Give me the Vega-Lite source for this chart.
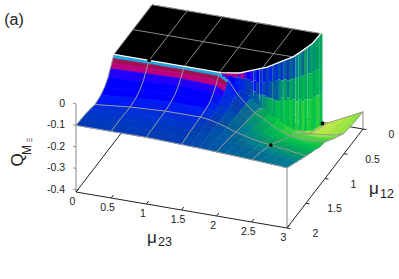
{"$schema":"https://vega.github.io/schema/vega-lite/v6.json","width":399,"height":279,"padding":0,"autosize":"none","background":"white","config":{"view":{"stroke":null},"text":{"font":"Liberation Sans","fill":"#222"}},
"datasets":{
"surface":[
{"m23":2.25,"m12":0,"q":-0.41,"c":5.5},{"m23":2.375,"m12":0,"q":-0.41,"c":6},{"m23":2.5,"m12":0,"q":-0.41,"c":6},{"m23":2.625,"m12":0,"q":-0.39,"c":5.8},{"m23":2.75,"m12":0,"q":-0.37,"c":5.6},{"m23":2.875,"m12":0,"q":-0.35,"c":5.3},{"m23":3,"m12":0,"q":-0.33,"c":5.1},
{"m23":2.125,"m12":0.25,"q":-0.36,"c":4},{"m23":2.25,"m12":0.25,"q":-0.39,"c":4.5},{"m23":2.375,"m12":0.25,"q":-0.39,"c":5.4},{"m23":2.5,"m12":0.25,"q":-0.38,"c":5.9},{"m23":2.625,"m12":0.25,"q":-0.365,"c":5.8},{"m23":2.75,"m12":0.25,"q":-0.35,"c":5.6},{"m23":2.875,"m12":0.25,"q":-0.34,"c":5.4},{"m23":3,"m12":0.25,"q":-0.325,"c":5.3},
{"m23":2,"m12":0.5,"q":-0.27,"c":3.5},{"m23":2.125,"m12":0.5,"q":-0.3,"c":4},{"m23":2.25,"m12":0.5,"q":-0.33,"c":4.3},{"m23":2.375,"m12":0.5,"q":-0.34,"c":4.8},{"m23":2.5,"m12":0.5,"q":-0.345,"c":5.2},{"m23":2.625,"m12":0.5,"q":-0.34,"c":5.3},{"m23":2.75,"m12":0.5,"q":-0.335,"c":5.3},{"m23":2.875,"m12":0.5,"q":-0.33,"c":5.2},{"m23":3,"m12":0.5,"q":-0.315,"c":5.1},
{"m23":1.875,"m12":0.75,"q":-0.14,"c":2.4},{"m23":2,"m12":0.75,"q":-0.2,"c":3.4},{"m23":2.125,"m12":0.75,"q":-0.23,"c":3.9},{"m23":2.25,"m12":0.75,"q":-0.26,"c":4.1},{"m23":2.375,"m12":0.75,"q":-0.28,"c":4.4},{"m23":2.5,"m12":0.75,"q":-0.29,"c":4.6},{"m23":2.625,"m12":0.75,"q":-0.29,"c":4.8},{"m23":2.75,"m12":0.75,"q":-0.29,"c":4.8},{"m23":2.875,"m12":0.75,"q":-0.285,"c":4.7},{"m23":3,"m12":0.75,"q":-0.28,"c":4.6},
{"m23":1.5,"m12":0.875,"q":-0.015,"c":0},{"m23":1.625,"m12":0.875,"q":-0.05,"c":0.1},{"m23":1.75,"m12":0.875,"q":-0.088,"c":0.7},{"m23":1.875,"m12":0.875,"q":-0.125,"c":2.2},{"m23":2,"m12":0.875,"q":-0.17,"c":3.2},{"m23":2.125,"m12":0.875,"q":-0.19,"c":3.7},{"m23":2.25,"m12":0.875,"q":-0.215,"c":4},{"m23":2.375,"m12":0.875,"q":-0.24,"c":4.2},{"m23":2.5,"m12":0.875,"q":-0.255,"c":4.4},{"m23":2.625,"m12":0.875,"q":-0.26,"c":4.5},{"m23":2.75,"m12":0.875,"q":-0.26,"c":4.5},{"m23":2.875,"m12":0.875,"q":-0.26,"c":4.4},{"m23":3,"m12":0.875,"q":-0.26,"c":4.3},
{"m23":0,"m12":1,"q":0,"c":-3},{"m23":0.5,"m12":1,"q":0,"c":-3},{"m23":1,"m12":1,"q":0,"c":-3},{"m23":1.5,"m12":1,"q":0,"c":-3},{"m23":1.625,"m12":1,"q":-0.03,"c":0.1},{"m23":1.75,"m12":1,"q":-0.085,"c":0.7},{"m23":1.875,"m12":1,"q":-0.125,"c":2},{"m23":2,"m12":1,"q":-0.16,"c":3},{"m23":2.125,"m12":1,"q":-0.18,"c":3.5},{"m23":2.25,"m12":1,"q":-0.205,"c":3.8},{"m23":2.375,"m12":1,"q":-0.225,"c":4},{"m23":2.5,"m12":1,"q":-0.24,"c":4.1},{"m23":2.625,"m12":1,"q":-0.245,"c":4.2},{"m23":2.75,"m12":1,"q":-0.245,"c":4.2},{"m23":2.875,"m12":1,"q":-0.243,"c":4.1},{"m23":3,"m12":1,"q":-0.24,"c":4},
{"m23":0,"m12":1.03,"q":-0.012,"c":-2.5},{"m23":0.5,"m12":1.03,"q":-0.01,"c":-2.5},{"m23":1,"m12":1.03,"q":-0.009,"c":-2.5},{"m23":1.5,"m12":1.03,"q":-0.011,"c":-2.5},{"m23":1.625,"m12":1.03,"q":-0.035,"c":0.2},{"m23":1.75,"m12":1.03,"q":-0.087,"c":0.8},{"m23":1.875,"m12":1.03,"q":-0.124,"c":2},{"m23":2,"m12":1.03,"q":-0.158,"c":2.9},{"m23":2.125,"m12":1.03,"q":-0.179,"c":3.4},{"m23":2.25,"m12":1.03,"q":-0.203,"c":3.7},{"m23":2.375,"m12":1.03,"q":-0.222,"c":3.9},{"m23":2.5,"m12":1.03,"q":-0.237,"c":4},{"m23":2.625,"m12":1.03,"q":-0.243,"c":4.05},{"m23":2.75,"m12":1.03,"q":-0.243,"c":4.1},{"m23":2.875,"m12":1.03,"q":-0.242,"c":4.05},{"m23":3,"m12":1.03,"q":-0.239,"c":3.95},
{"m23":0,"m12":1.06,"q":-0.026,"c":-1.8},{"m23":0.5,"m12":1.06,"q":-0.022,"c":-1.8},{"m23":1,"m12":1.06,"q":-0.02,"c":-1.8},{"m23":1.5,"m12":1.06,"q":-0.024,"c":-1.8},{"m23":1.625,"m12":1.06,"q":-0.045,"c":0.3},{"m23":1.75,"m12":1.06,"q":-0.088,"c":0.9},{"m23":1.875,"m12":1.06,"q":-0.123,"c":2},{"m23":2,"m12":1.06,"q":-0.157,"c":2.9},{"m23":2.125,"m12":1.06,"q":-0.177,"c":3.3},{"m23":2.25,"m12":1.06,"q":-0.2,"c":3.65},{"m23":2.375,"m12":1.06,"q":-0.219,"c":3.8},{"m23":2.5,"m12":1.06,"q":-0.234,"c":3.9},{"m23":2.625,"m12":1.06,"q":-0.24,"c":3.95},{"m23":2.75,"m12":1.06,"q":-0.241,"c":4},{"m23":2.875,"m12":1.06,"q":-0.24,"c":4},{"m23":3,"m12":1.06,"q":-0.237,"c":3.9},
{"m23":0,"m12":1.1,"q":-0.044,"c":-0.1},{"m23":0.5,"m12":1.1,"q":-0.038,"c":-0.1},{"m23":1,"m12":1.1,"q":-0.034,"c":-0.1},{"m23":1.5,"m12":1.1,"q":-0.04,"c":-0.1},{"m23":1.625,"m12":1.1,"q":-0.06,"c":0.4},{"m23":1.75,"m12":1.1,"q":-0.09,"c":1},{"m23":1.875,"m12":1.1,"q":-0.122,"c":2},{"m23":2,"m12":1.1,"q":-0.155,"c":2.8},{"m23":2.125,"m12":1.1,"q":-0.175,"c":3.2},{"m23":2.25,"m12":1.1,"q":-0.195,"c":3.55},{"m23":2.375,"m12":1.1,"q":-0.213,"c":3.7},{"m23":2.5,"m12":1.1,"q":-0.23,"c":3.8},{"m23":2.625,"m12":1.1,"q":-0.235,"c":3.85},{"m23":2.75,"m12":1.1,"q":-0.237,"c":3.9},{"m23":2.875,"m12":1.1,"q":-0.237,"c":3.9},{"m23":3,"m12":1.1,"q":-0.235,"c":3.85},
{"m23":0,"m12":1.16,"q":-0.072,"c":0},{"m23":0.5,"m12":1.16,"q":-0.062,"c":0},{"m23":1,"m12":1.16,"q":-0.055,"c":0},{"m23":1.5,"m12":1.16,"q":-0.06,"c":0.1},{"m23":1.625,"m12":1.16,"q":-0.075,"c":0.5},{"m23":1.75,"m12":1.16,"q":-0.095,"c":1.1},{"m23":1.875,"m12":1.16,"q":-0.122,"c":2},{"m23":2,"m12":1.16,"q":-0.152,"c":2.7},{"m23":2.125,"m12":1.16,"q":-0.17,"c":3.1},{"m23":2.25,"m12":1.16,"q":-0.19,"c":3.4},{"m23":2.375,"m12":1.16,"q":-0.205,"c":3.55},{"m23":2.5,"m12":1.16,"q":-0.22,"c":3.65},{"m23":2.625,"m12":1.16,"q":-0.225,"c":3.7},{"m23":2.75,"m12":1.16,"q":-0.228,"c":3.75},{"m23":2.875,"m12":1.16,"q":-0.23,"c":3.75},{"m23":3,"m12":1.16,"q":-0.23,"c":3.75},
{"m23":0,"m12":1.25,"q":-0.095,"c":0},{"m23":0.5,"m12":1.25,"q":-0.082,"c":0},{"m23":1,"m12":1.25,"q":-0.075,"c":0},{"m23":1.5,"m12":1.25,"q":-0.08,"c":0.3},{"m23":1.625,"m12":1.25,"q":-0.09,"c":0.7},{"m23":1.75,"m12":1.25,"q":-0.105,"c":1.3},{"m23":1.875,"m12":1.25,"q":-0.125,"c":2},{"m23":2,"m12":1.25,"q":-0.15,"c":2.5},{"m23":2.125,"m12":1.25,"q":-0.165,"c":2.85},{"m23":2.25,"m12":1.25,"q":-0.18,"c":3.1},{"m23":2.375,"m12":1.25,"q":-0.195,"c":3.3},{"m23":2.5,"m12":1.25,"q":-0.205,"c":3.4},{"m23":2.625,"m12":1.25,"q":-0.21,"c":3.45},{"m23":2.75,"m12":1.25,"q":-0.213,"c":3.5},{"m23":2.875,"m12":1.25,"q":-0.215,"c":3.55},{"m23":3,"m12":1.25,"q":-0.217,"c":3.55},
{"m23":0,"m12":1.35,"q":-0.11,"c":0.15},{"m23":0.5,"m12":1.35,"q":-0.095,"c":0.15},{"m23":1,"m12":1.35,"q":-0.085,"c":0.2},{"m23":1.5,"m12":1.35,"q":-0.087,"c":0.5},{"m23":1.625,"m12":1.35,"q":-0.094,"c":0.9},{"m23":1.75,"m12":1.35,"q":-0.106,"c":1.4},{"m23":1.875,"m12":1.35,"q":-0.122,"c":1.9},{"m23":2,"m12":1.35,"q":-0.143,"c":2.3},{"m23":2.125,"m12":1.35,"q":-0.156,"c":2.6},{"m23":2.25,"m12":1.35,"q":-0.168,"c":2.8},{"m23":2.375,"m12":1.35,"q":-0.18,"c":3},{"m23":2.5,"m12":1.35,"q":-0.188,"c":3.1},{"m23":2.625,"m12":1.35,"q":-0.194,"c":3.2},{"m23":2.75,"m12":1.35,"q":-0.198,"c":3.25},{"m23":2.875,"m12":1.35,"q":-0.203,"c":3.3},{"m23":3,"m12":1.35,"q":-0.207,"c":3.3},
{"m23":0,"m12":1.5,"q":-0.118,"c":0.5},{"m23":0.5,"m12":1.5,"q":-0.102,"c":0.5},{"m23":1,"m12":1.5,"q":-0.093,"c":0.5},{"m23":1.5,"m12":1.5,"q":-0.093,"c":0.8},{"m23":1.625,"m12":1.5,"q":-0.098,"c":1},{"m23":1.75,"m12":1.5,"q":-0.108,"c":1.3},{"m23":1.875,"m12":1.5,"q":-0.12,"c":1.65},{"m23":2,"m12":1.5,"q":-0.135,"c":2},{"m23":2.125,"m12":1.5,"q":-0.145,"c":2.25},{"m23":2.25,"m12":1.5,"q":-0.155,"c":2.45},{"m23":2.375,"m12":1.5,"q":-0.162,"c":2.6},{"m23":2.5,"m12":1.5,"q":-0.167,"c":2.7},{"m23":2.625,"m12":1.5,"q":-0.173,"c":2.8},{"m23":2.75,"m12":1.5,"q":-0.178,"c":2.9},{"m23":2.875,"m12":1.5,"q":-0.184,"c":2.95},{"m23":3,"m12":1.5,"q":-0.19,"c":3},
{"m23":0,"m12":1.625,"q":-0.11,"c":0.65},{"m23":0.5,"m12":1.625,"q":-0.1,"c":0.65},{"m23":1,"m12":1.625,"q":-0.094,"c":0.7},{"m23":1.5,"m12":1.625,"q":-0.095,"c":0.95},{"m23":1.625,"m12":1.625,"q":-0.099,"c":1.1},{"m23":1.75,"m12":1.625,"q":-0.106,"c":1.35},{"m23":1.875,"m12":1.625,"q":-0.116,"c":1.6},{"m23":2,"m12":1.625,"q":-0.127,"c":1.85},{"m23":2.125,"m12":1.625,"q":-0.136,"c":2},{"m23":2.25,"m12":1.625,"q":-0.144,"c":2.15},{"m23":2.375,"m12":1.625,"q":-0.15,"c":2.3},{"m23":2.5,"m12":1.625,"q":-0.153,"c":2.4},{"m23":2.625,"m12":1.625,"q":-0.159,"c":2.5},{"m23":2.75,"m12":1.625,"q":-0.164,"c":2.55},{"m23":2.875,"m12":1.625,"q":-0.17,"c":2.6},{"m23":3,"m12":1.625,"q":-0.175,"c":2.65},
{"m23":0,"m12":1.75,"q":-0.105,"c":0.8},{"m23":0.5,"m12":1.75,"q":-0.098,"c":0.8},{"m23":1,"m12":1.75,"q":-0.095,"c":0.9},{"m23":1.5,"m12":1.75,"q":-0.097,"c":1.1},{"m23":1.625,"m12":1.75,"q":-0.1,"c":1.2},{"m23":1.75,"m12":1.75,"q":-0.105,"c":1.4},{"m23":1.875,"m12":1.75,"q":-0.112,"c":1.55},{"m23":2,"m12":1.75,"q":-0.12,"c":1.7},{"m23":2.125,"m12":1.75,"q":-0.127,"c":1.8},{"m23":2.25,"m12":1.75,"q":-0.133,"c":1.9},{"m23":2.375,"m12":1.75,"q":-0.137,"c":2},{"m23":2.5,"m12":1.75,"q":-0.14,"c":2.1},{"m23":2.625,"m12":1.75,"q":-0.145,"c":2.2},{"m23":2.75,"m12":1.75,"q":-0.15,"c":2.25},{"m23":2.875,"m12":1.75,"q":-0.155,"c":2.3},{"m23":3,"m12":1.75,"q":-0.16,"c":2.35},
{"m23":0,"m12":1.875,"q":-0.102,"c":0.9},{"m23":0.5,"m12":1.875,"q":-0.099,"c":0.9},{"m23":1,"m12":1.875,"q":-0.097,"c":0.95},{"m23":1.5,"m12":1.875,"q":-0.101,"c":1.15},{"m23":1.625,"m12":1.875,"q":-0.103,"c":1.25},{"m23":1.75,"m12":1.875,"q":-0.106,"c":1.4},{"m23":1.875,"m12":1.875,"q":-0.111,"c":1.5},{"m23":2,"m12":1.875,"q":-0.116,"c":1.65},{"m23":2.125,"m12":1.875,"q":-0.12,"c":1.75},{"m23":2.25,"m12":1.875,"q":-0.124,"c":1.85},{"m23":2.375,"m12":1.875,"q":-0.127,"c":1.95},{"m23":2.5,"m12":1.875,"q":-0.13,"c":2.05},{"m23":2.625,"m12":1.875,"q":-0.133,"c":2.15},{"m23":2.75,"m12":1.875,"q":-0.137,"c":2.2},{"m23":2.875,"m12":1.875,"q":-0.141,"c":2.3},{"m23":3,"m12":1.875,"q":-0.145,"c":2.3},
{"m23":0,"m12":2,"q":-0.1,"c":1},{"m23":0.5,"m12":2,"q":-0.1,"c":1},{"m23":1,"m12":2,"q":-0.1,"c":1},{"m23":1.5,"m12":2,"q":-0.105,"c":1.2},{"m23":1.625,"m12":2,"q":-0.107,"c":1.3},{"m23":1.75,"m12":2,"q":-0.108,"c":1.4},{"m23":1.875,"m12":2,"q":-0.11,"c":1.5},{"m23":2,"m12":2,"q":-0.112,"c":1.6},{"m23":2.125,"m12":2,"q":-0.114,"c":1.7},{"m23":2.25,"m12":2,"q":-0.116,"c":1.8},{"m23":2.375,"m12":2,"q":-0.118,"c":1.9},{"m23":2.5,"m12":2,"q":-0.12,"c":2},{"m23":2.625,"m12":2,"q":-0.122,"c":2.1},{"m23":2.75,"m12":2,"q":-0.125,"c":2.2},{"m23":2.875,"m12":2,"q":-0.127,"c":2.25},{"m23":3,"m12":2,"q":-0.13,"c":2.3}
],
"wall":[
{"m23":1.56,"m12":0.99,"q":0,"q2":-0.008,"c":-2.2},{"m23":1.56,"m12":0.99,"q":-0.008,"q2":-0.019,"c":-0.5},
{"m23":1.6,"m12":0.985,"q":0,"q2":-0.012,"c":-2.3},{"m23":1.6,"m12":0.985,"q":-0.012,"q2":-0.028,"c":-0.8},
{"m23":1.64,"m12":0.975,"q":0,"q2":-0.015,"c":-2},{"m23":1.64,"m12":0.975,"q":-0.015,"q2":-0.037,"c":0},
{"m23":1.68,"m12":0.965,"q":0,"q2":-0.02,"c":-1.5},{"m23":1.68,"m12":0.965,"q":-0.02,"q2":-0.047,"c":0},
{"m23":1.72,"m12":0.96,"q":0,"q2":-0.02,"c":-2.2},{"m23":1.72,"m12":0.96,"q":-0.02,"q2":-0.056,"c":0.2},
{"m23":1.76,"m12":0.95,"q":0,"q2":-0.02,"c":-1},{"m23":1.76,"m12":0.95,"q":-0.02,"q2":-0.07,"c":0.3},
{"m23":1.79,"m12":0.93,"q":0,"q2":-0.03,"c":-1.8},{"m23":1.79,"m12":0.93,"q":-0.03,"q2":-0.081,"c":0.4},
{"m23":1.82,"m12":0.91,"q":0,"q2":-0.03,"c":-0.5},{"m23":1.82,"m12":0.91,"q":-0.03,"q2":-0.098,"c":0.6},
{"m23":1.855,"m12":0.89,"q":0,"q2":-0.04,"c":0},{"m23":1.855,"m12":0.89,"q":-0.04,"q2":-0.114,"c":1},
{"m23":1.885,"m12":0.87,"q":0,"q2":-0.05,"c":-0.2},{"m23":1.885,"m12":0.87,"q":-0.05,"q2":-0.09,"c":0.8},{"m23":1.885,"m12":0.87,"q":-0.09,"q2":-0.13,"c":1.3},
{"m23":1.92,"m12":0.845,"q":0,"q2":-0.05,"c":0.6},{"m23":1.92,"m12":0.845,"q":-0.05,"q2":-0.1,"c":0.2},{"m23":1.92,"m12":0.845,"q":-0.1,"q2":-0.149,"c":1.6},
{"m23":1.95,"m12":0.825,"q":0,"q2":-0.06,"c":0},{"m23":1.95,"m12":0.825,"q":-0.06,"q2":-0.12,"c":1},{"m23":1.95,"m12":0.825,"q":-0.12,"q2":-0.165,"c":1.8},
{"m23":1.985,"m12":0.8,"q":0,"q2":-0.06,"c":0.9},{"m23":1.985,"m12":0.8,"q":-0.06,"q2":-0.12,"c":0.3},{"m23":1.985,"m12":0.8,"q":-0.12,"q2":-0.184,"c":2.3},
{"m23":2.02,"m12":0.78,"q":0,"q2":-0.07,"c":0.2},{"m23":2.02,"m12":0.78,"q":-0.07,"q2":-0.13,"c":1.2},{"m23":2.02,"m12":0.78,"q":-0.13,"q2":-0.195,"c":2.8},
{"m23":2.05,"m12":0.76,"q":0,"q2":-0.06,"c":1},{"m23":2.05,"m12":0.76,"q":-0.06,"q2":-0.14,"c":0.8},{"m23":2.05,"m12":0.76,"q":-0.14,"q2":-0.209,"c":3},
{"m23":2.08,"m12":0.73,"q":0,"q2":-0.07,"c":0.3},{"m23":2.08,"m12":0.73,"q":-0.07,"q2":-0.15,"c":1.4},{"m23":2.08,"m12":0.73,"q":-0.15,"q2":-0.223,"c":3.4},
{"m23":2.11,"m12":0.7,"q":0,"q2":-0.08,"c":1.2},{"m23":2.11,"m12":0.7,"q":-0.08,"q2":-0.16,"c":2},{"m23":2.11,"m12":0.7,"q":-0.16,"q2":-0.237,"c":3.2},
{"m23":2.13,"m12":0.67,"q":0,"q2":-0.08,"c":0.5},{"m23":2.13,"m12":0.67,"q":-0.08,"q2":-0.17,"c":1.6},{"m23":2.13,"m12":0.67,"q":-0.17,"q2":-0.253,"c":3.6},
{"m23":2.16,"m12":0.64,"q":0,"q2":-0.08,"c":1.4},{"m23":2.16,"m12":0.64,"q":-0.08,"q2":-0.18,"c":2.4},{"m23":2.16,"m12":0.64,"q":-0.18,"q2":-0.267,"c":3.8},
{"m23":2.18,"m12":0.61,"q":0,"q2":-0.09,"c":0.8},{"m23":2.18,"m12":0.61,"q":-0.09,"q2":-0.17,"c":2.8},{"m23":2.18,"m12":0.61,"q":-0.17,"q2":-0.281,"c":3.5},
{"m23":2.21,"m12":0.58,"q":0,"q2":-0.09,"c":1.6},{"m23":2.21,"m12":0.58,"q":-0.09,"q2":-0.19,"c":3.1},{"m23":2.21,"m12":0.58,"q":-0.19,"q2":-0.298,"c":3.9},
{"m23":2.235,"m12":0.55,"q":0,"q2":-0.1,"c":1},{"m23":2.235,"m12":0.55,"q":-0.1,"q2":-0.18,"c":2.2},{"m23":2.235,"m12":0.55,"q":-0.18,"q2":-0.314,"c":3.7},
{"m23":2.26,"m12":0.52,"q":0,"q2":-0.1,"c":1.9},{"m23":2.26,"m12":0.52,"q":-0.1,"q2":-0.2,"c":3.3},{"m23":2.26,"m12":0.52,"q":-0.2,"q2":-0.326,"c":4},
{"m23":2.28,"m12":0.49,"q":0,"q2":-0.1,"c":1.3},{"m23":2.28,"m12":0.49,"q":-0.1,"q2":-0.2,"c":2.8},{"m23":2.28,"m12":0.49,"q":-0.2,"q2":-0.34,"c":3.7},
{"m23":2.3,"m12":0.44,"q":0,"q2":-0.11,"c":2.4},{"m23":2.3,"m12":0.44,"q":-0.11,"q2":-0.22,"c":3.4},{"m23":2.3,"m12":0.44,"q":-0.22,"q2":-0.353,"c":4.1},
{"m23":2.32,"m12":0.39,"q":0,"q2":-0.12,"c":2.8},{"m23":2.32,"m12":0.39,"q":-0.12,"q2":-0.22,"c":3.1},{"m23":2.32,"m12":0.39,"q":-0.22,"q2":-0.363,"c":3.8},
{"m23":2.335,"m12":0.345,"q":0,"q2":-0.12,"c":2},{"m23":2.335,"m12":0.345,"q":-0.12,"q2":-0.24,"c":3.6},{"m23":2.335,"m12":0.345,"q":-0.24,"q2":-0.377,"c":4.2},
{"m23":2.35,"m12":0.3,"q":0,"q2":-0.13,"c":3},{"m23":2.35,"m12":0.3,"q":-0.13,"q2":-0.24,"c":3.3},{"m23":2.35,"m12":0.3,"q":-0.24,"q2":-0.386,"c":3.9},
{"m23":2.37,"m12":0.25,"q":0,"q2":-0.13,"c":2.4},{"m23":2.37,"m12":0.25,"q":-0.13,"q2":-0.25,"c":3.5},{"m23":2.37,"m12":0.25,"q":-0.25,"q2":-0.395,"c":4.1},
{"m23":2.385,"m12":0.205,"q":0,"q2":-0.14,"c":3.2},{"m23":2.385,"m12":0.205,"q":-0.14,"q2":-0.26,"c":3.7},{"m23":2.385,"m12":0.205,"q":-0.26,"q2":-0.405,"c":4},
{"m23":2.39,"m12":0.15,"q":0,"q2":-0.14,"c":2.8},{"m23":2.39,"m12":0.15,"q":-0.14,"q2":-0.26,"c":3.3},{"m23":2.39,"m12":0.15,"q":-0.26,"q2":-0.409,"c":3.9},
{"m23":2.395,"m12":0.08,"q":0,"q2":-0.15,"c":3.1},{"m23":2.395,"m12":0.08,"q":-0.15,"q2":-0.27,"c":3.6},{"m23":2.395,"m12":0.08,"q":-0.27,"q2":-0.419,"c":4.2},
{"m23":2.4,"m12":0,"q":0,"q2":-0.15,"c":3.2},{"m23":2.4,"m12":0,"q":-0.15,"q2":-0.28,"c":3.4},{"m23":2.4,"m12":0,"q":-0.28,"q2":-0.43,"c":3.8}
],
"plateau":[
{"n":0,"m23":0,"m12":0,"q":0},{"n":1,"m23":2.4,"m12":0,"q":0},{"n":2,"m23":2.39,"m12":0.19,"q":0},{"n":3,"m23":2.37,"m12":0.25,"q":0},{"n":4,"m23":2.33,"m12":0.37,"q":0},{"n":5,"m23":2.276,"m12":0.5,"q":0},{"n":6,"m23":2.18,"m12":0.61,"q":0},{"n":7,"m23":2.05,"m12":0.76,"q":0},{"n":8,"m23":1.9,"m12":0.86,"q":0},{"n":9,"m23":1.76,"m12":0.95,"q":0},{"n":10,"m23":1.52,"m12":1,"q":0},{"n":11,"m23":0,"m12":1,"q":0}
],
"segments":[
{"kind":"axis","m23":0,"m12":2,"q":-0.41,"m23b":3,"m12b":2,"qb":-0.41},{"kind":"axis","m23":3,"m12":2,"q":-0.41,"m23b":3,"m12b":0,"qb":-0.41},{"kind":"axis","m23":0,"m12":2,"q":-0.41,"m23b":0,"m12b":0,"qb":-0.41},{"kind":"axis","m23":0,"m12":0,"q":-0.41,"m23b":3,"m12b":0,"qb":-0.41},
{"kind":"edge","m23":0,"m12":2,"q":0,"m23b":0,"m12b":2,"qb":-0.41},{"kind":"edge","m23":3,"m12":2,"q":-0.13,"m23b":3,"m12b":2,"qb":-0.41},{"kind":"edge","m23":3,"m12":0,"q":-0.33,"m23b":3,"m12b":0,"qb":-0.41},
{"kind":"edge","m23":0,"m12":2,"q":0,"m23b":-0.04,"m12b":2,"qb":0},{"kind":"edge","m23":0,"m12":2,"q":-0.1,"m23b":-0.04,"m12b":2,"qb":-0.1},{"kind":"edge","m23":0,"m12":2,"q":-0.2,"m23b":-0.04,"m12b":2,"qb":-0.2},{"kind":"edge","m23":0,"m12":2,"q":-0.3,"m23b":-0.04,"m12b":2,"qb":-0.3},{"kind":"edge","m23":0,"m12":2,"q":-0.4,"m23b":-0.04,"m12b":2,"qb":-0.4},
{"kind":"axis","m23":0,"m12":2,"q":-0.41,"m23b":0,"m12b":1.94,"qb":-0.41},{"kind":"axis","m23":0.5,"m12":2,"q":-0.41,"m23b":0.5,"m12b":1.94,"qb":-0.41},{"kind":"axis","m23":1,"m12":2,"q":-0.41,"m23b":1,"m12b":1.94,"qb":-0.41},{"kind":"axis","m23":1.5,"m12":2,"q":-0.41,"m23b":1.5,"m12b":1.94,"qb":-0.41},{"kind":"axis","m23":2,"m12":2,"q":-0.41,"m23b":2,"m12b":1.94,"qb":-0.41},{"kind":"axis","m23":2.5,"m12":2,"q":-0.41,"m23b":2.5,"m12b":1.94,"qb":-0.41},{"kind":"axis","m23":3,"m12":2,"q":-0.41,"m23b":3,"m12b":1.94,"qb":-0.41},
{"kind":"axis","m23":3,"m12":0,"q":-0.41,"m23b":3.05,"m12b":0,"qb":-0.41},{"kind":"axis","m23":3,"m12":0.5,"q":-0.41,"m23b":3.05,"m12b":0.5,"qb":-0.41},{"kind":"axis","m23":3,"m12":1,"q":-0.41,"m23b":3.05,"m12b":1,"qb":-0.41},{"kind":"axis","m23":3,"m12":1.5,"q":-0.41,"m23b":3.05,"m12b":1.5,"qb":-0.41},{"kind":"axis","m23":3,"m12":2,"q":-0.41,"m23b":3.05,"m12b":2,"qb":-0.41},
{"kind":"grid","m23":0,"m12":0,"q":0,"m23b":2.4,"m12b":0,"qb":0},{"kind":"grid","m23":0,"m12":0,"q":0,"m23b":0,"m12b":1,"qb":0},{"kind":"grid","m23":0,"m12":0.5,"q":0,"m23b":2.276,"m12b":0.5,"qb":0},{"kind":"grid","m23":0.5,"m12":0,"q":0,"m23b":0.5,"m12b":1,"qb":0},{"kind":"grid","m23":1,"m12":0,"q":0,"m23b":1,"m12b":1,"qb":0},{"kind":"grid","m23":1.5,"m12":0,"q":0,"m23b":1.5,"m12b":1,"qb":0},{"kind":"grid","m23":2,"m12":0,"q":0,"m23b":2,"m12b":0.79,"qb":0}
],
"ticks":[
{"label":"0","axis":"z","m23":0,"m12":2,"q":0},{"label":"-0.1","axis":"z","m23":0,"m12":2,"q":-0.1},{"label":"-0.2","axis":"z","m23":0,"m12":2,"q":-0.2},{"label":"-0.3","axis":"z","m23":0,"m12":2,"q":-0.3},{"label":"-0.4","axis":"z","m23":0,"m12":2,"q":-0.4},
{"label":"0","axis":"x","m23":0,"m12":2,"q":-0.41},{"label":"0.5","axis":"x","m23":0.5,"m12":2,"q":-0.41},{"label":"1","axis":"x","m23":1,"m12":2,"q":-0.41},{"label":"1.5","axis":"x","m23":1.5,"m12":2,"q":-0.41},{"label":"2","axis":"x","m23":2,"m12":2,"q":-0.41},{"label":"2.5","axis":"x","m23":2.5,"m12":2,"q":-0.41},{"label":"3","axis":"x","m23":3,"m12":2,"q":-0.41},
{"label":"0","axis":"y","m23":3,"m12":0,"q":-0.41},{"label":"0.5","axis":"y","m23":3,"m12":0.5,"q":-0.41},{"label":"1","axis":"y","m23":3,"m12":1,"q":-0.41},{"label":"1.5","axis":"y","m23":3,"m12":1.5,"q":-0.41},{"label":"2","axis":"y","m23":3,"m12":2,"q":-0.41}
],
"dots":[{"m23":0.5,"m12":1,"q":0},{"m23":2.5,"m12":1.5,"q":-0.167},{"m23":2.5,"m12":0.14,"q":-0.38}]
},
"encoding":{"x":{"field":"sx","type":"quantitative","scale":{"domain":[0,399],"nice":false,"zero":false},"axis":null},"y":{"field":"sy","type":"quantitative","scale":{"domain":[279,0],"nice":false,"zero":false},"axis":null}},
"layer":[
{"data":{"name":"segments"},"transform":[{"filter":"datum.kind!='grid'"},{"calculate":"76+70.33*datum.m23+38*(2-datum.m12)","as":"sx"},{"calculate":"192+12*datum.m23-49.5*(2-datum.m12)-(datum.q+0.41)*215","as":"sy"},{"calculate":"76+70.33*datum.m23b+38*(2-datum.m12b)","as":"sxb"},{"calculate":"192+12*datum.m23b-49.5*(2-datum.m12b)-(datum.qb+0.41)*215","as":"syb"}],"mark":{"type":"rule","strokeWidth":1},"encoding":{"x2":{"field":"sxb"},"y2":{"field":"syb"},"color":{"field":"kind","type":"nominal","legend":null,"scale":{"domain":["axis","edge"],"range":["#222222","#8a8a8a"]}}}},
{"data":{"name":"surface"},"transform":[{"window":[{"op":"lead","field":"m12","as":"m12n"},{"op":"lead","field":"q","as":"qS"}],"sort":[{"field":"m12","order":"ascending"}],"groupby":["m23"]},{"window":[{"op":"lead","field":"m23","as":"m23n"},{"op":"lead","field":"q","as":"qE"},{"op":"lead","field":"qS","as":"qD"}],"sort":[{"field":"m23","order":"ascending"}],"groupby":["m12"]},{"filter":"isValid(datum.m12n)&&isValid(datum.m23n)&&isValid(datum.qD)"},{"calculate":"datum.m23+'_'+datum.m12","as":"cell"},{"calculate":"[datum.m23,datum.m23n,datum.m23n,datum.m23]","as":"xs"},{"calculate":"[datum.m12,datum.m12,datum.m12n,datum.m12n]","as":"ys"},{"calculate":"[datum.q,datum.qE,datum.qD,datum.qS]","as":"zs"},{"calculate":"[0,1,2,3]","as":"ks"},{"flatten":["xs","ys","zs","ks"],"as":["xv","yv","zv","kv"]},{"calculate":"76+70.33*datum.xv+38*(2-datum.yv)","as":"sx"},{"calculate":"192+12*datum.xv-49.5*(2-datum.yv)-(datum.zv+0.41)*215","as":"sy"}],"mark":{"type":"line","strokeWidth":0.7,"interpolate":"linear"},"encoding":{"detail":{"field":"cell","type":"nominal"},"order":{"field":"kv","type":"quantitative"},"fill":{"field":"c","type":"quantitative","legend":null,"scale":{"domain":[-3,-2.5,-2,-1,0,1,2,3,4,5,6],"range":["#18a8e0","#a01050","#c00070","#6000d0","#0000ff","#0a3cb0","#0a6890","#0a9a60","#10c840","#70e040","#c4e848"]}},"stroke":{"field":"c","type":"quantitative","legend":null,"scale":{"domain":[-3,-2.5,-2,-1,0,1,2,3,4,5,6],"range":["#18a8e0","#a01050","#c00070","#6000d0","#0000ff","#0a3cb0","#0a6890","#0a9a60","#10c840","#70e040","#c4e848"]}}}},
{"data":{"name":"surface"},"transform":[{"filter":"indexof([0,0.5,1,1.5,2,2.5,3],datum.m23)>=0"},{"calculate":"76+70.33*datum.m23+38*(2-datum.m12)","as":"sx"},{"calculate":"192+12*datum.m23-49.5*(2-datum.m12)-(datum.q+0.41)*215","as":"sy"}],"mark":{"type":"line","stroke":"#9a9a9a","strokeWidth":1},"encoding":{"detail":{"field":"m23","type":"nominal"},"order":{"field":"m12","type":"quantitative"}}},
{"data":{"name":"surface"},"transform":[{"filter":"indexof([0,0.5,1,1.5,2],datum.m12)>=0"},{"calculate":"76+70.33*datum.m23+38*(2-datum.m12)","as":"sx"},{"calculate":"192+12*datum.m23-49.5*(2-datum.m12)-(datum.q+0.41)*215","as":"sy"}],"mark":{"type":"line","stroke":"#9a9a9a","strokeWidth":1},"encoding":{"detail":{"field":"m12","type":"nominal"},"order":{"field":"m23","type":"quantitative"}}},
{"data":{"name":"wall"},"transform":[{"calculate":"76+70.33*datum.m23+38*(2-datum.m12)","as":"sx"},{"calculate":"192+12*datum.m23-49.5*(2-datum.m12)-(datum.q+0.41)*215","as":"sy"},{"calculate":"192+12*datum.m23-49.5*(2-datum.m12)-(datum.q2+0.41)*215","as":"sy2"}],"mark":{"type":"rule","strokeWidth":3.3},"encoding":{"y2":{"field":"sy2"},"stroke":{"field":"c","type":"quantitative","legend":null,"scale":{"domain":[-3,-2.5,-2,-1,0,1,2,3,4,5,6],"range":["#18a8e0","#a01050","#c00070","#6000d0","#0000ff","#0a3cb0","#0a6890","#0a9a60","#10c840","#70e040","#c4e848"]}}}},
{"data":{"name":"plateau"},"transform":[{"calculate":"76+70.33*datum.m23+38*(2-datum.m12)","as":"sx"},{"calculate":"192+12*datum.m23-49.5*(2-datum.m12)-(datum.q+0.41)*215","as":"sy"}],"mark":{"type":"line","fill":"#000000","stroke":"#000000","strokeWidth":0.5},"encoding":{"order":{"field":"n","type":"quantitative"}}},
{"data":{"name":"segments"},"transform":[{"filter":"datum.kind=='grid'"},{"calculate":"76+70.33*datum.m23+38*(2-datum.m12)","as":"sx"},{"calculate":"192+12*datum.m23-49.5*(2-datum.m12)-(datum.q+0.41)*215","as":"sy"},{"calculate":"76+70.33*datum.m23b+38*(2-datum.m12b)","as":"sxb"},{"calculate":"192+12*datum.m23b-49.5*(2-datum.m12b)-(datum.qb+0.41)*215","as":"syb"}],"mark":{"type":"rule","strokeWidth":1,"stroke":"#8a8a8a"},"encoding":{"x2":{"field":"sxb"},"y2":{"field":"syb"}}},
{"data":{"name":"plateau"},"transform":[{"filter":"datum.n>=1"},{"calculate":"76+70.33*datum.m23+38*(2-datum.m12)","as":"sx"},{"calculate":"192+12*datum.m23-49.5*(2-datum.m12)-(datum.q+0.41)*215","as":"sy"}],"mark":{"type":"line","stroke":"#ffffff","strokeWidth":1.3},"encoding":{"order":{"field":"n","type":"quantitative"}}},
{"data":{"name":"dots"},"transform":[{"calculate":"76+70.33*datum.m23+38*(2-datum.m12)","as":"sx"},{"calculate":"192+12*datum.m23-49.5*(2-datum.m12)-(datum.q+0.41)*215","as":"sy"}],"mark":{"type":"point","shape":"circle","filled":true,"fill":"#000000","stroke":null,"size":14,"opacity":1}},
{"data":{"name":"ticks"},"transform":[{"filter":"datum.axis=='z'"},{"calculate":"76+70.33*datum.m23+38*(2-datum.m12)","as":"sx"},{"calculate":"192+12*datum.m23-49.5*(2-datum.m12)-(datum.q+0.41)*215","as":"sy"}],"mark":{"type":"text","align":"right","baseline":"middle","dx":-11,"fontSize":10.5},"encoding":{"text":{"field":"label"}}},
{"data":{"name":"ticks"},"transform":[{"filter":"datum.axis=='x'"},{"calculate":"76+70.33*datum.m23+38*(2-datum.m12)","as":"sx"},{"calculate":"192+12*datum.m23-49.5*(2-datum.m12)-(datum.q+0.41)*215","as":"sy"}],"mark":{"type":"text","align":"center","baseline":"middle","dx":-3.5,"dy":10,"fontSize":10.5},"encoding":{"text":{"field":"label"}}},
{"data":{"name":"ticks"},"transform":[{"filter":"datum.axis=='y'"},{"calculate":"76+70.33*datum.m23+38*(2-datum.m12)","as":"sx"},{"calculate":"192+12*datum.m23-49.5*(2-datum.m12)-(datum.q+0.41)*215","as":"sy"}],"mark":{"type":"text","align":"center","baseline":"middle","dx":28.5,"dy":6,"fontSize":10.5},"encoding":{"text":{"field":"label"}}},
{"data":{"values":[{"label":"(a)"}]},"transform":[{"calculate":"14","as":"sx"},{"calculate":"20","as":"sy"}],"mark":{"type":"text","fontSize":16,"align":"center","baseline":"middle"},"encoding":{"text":{"field":"label"}}},
{"data":{"values":[{"label":"Q"}]},"transform":[{"calculate":"18","as":"sx"},{"calculate":"160","as":"sy"}],"mark":{"type":"text","fontSize":17,"align":"center","baseline":"middle","angle":270},"encoding":{"text":{"field":"label"}}},
{"data":{"values":[{"label":"M"}]},"transform":[{"calculate":"27","as":"sx"},{"calculate":"150","as":"sy"}],"mark":{"type":"text","fontSize":12,"align":"center","baseline":"middle","angle":270},"encoding":{"text":{"field":"label"}}},
{"data":{"values":[{"label":"Ξ"}]},"transform":[{"calculate":"30","as":"sx"},{"calculate":"140","as":"sy"}],"mark":{"type":"text","fontSize":7,"align":"center","baseline":"middle","angle":270},"encoding":{"text":{"field":"label"}}},
{"data":{"values":[{"label":"μ"}]},"transform":[{"calculate":"152","as":"sx"},{"calculate":"238","as":"sy"}],"mark":{"type":"text","fontSize":17,"align":"center","baseline":"middle"},"encoding":{"text":{"field":"label"}}},
{"data":{"values":[{"label":"23"}]},"transform":[{"calculate":"165","as":"sx"},{"calculate":"242","as":"sy"}],"mark":{"type":"text","fontSize":12.5,"align":"center","baseline":"middle"},"encoding":{"text":{"field":"label"}}},
{"data":{"values":[{"label":"μ"}]},"transform":[{"calculate":"374","as":"sx"},{"calculate":"189","as":"sy"}],"mark":{"type":"text","fontSize":17,"align":"center","baseline":"middle"},"encoding":{"text":{"field":"label"}}},
{"data":{"values":[{"label":"12"}]},"transform":[{"calculate":"387","as":"sx"},{"calculate":"194","as":"sy"}],"mark":{"type":"text","fontSize":12.5,"align":"center","baseline":"middle"},"encoding":{"text":{"field":"label"}}}
],
"resolve":{"scale":{"color":"independent"}}}
